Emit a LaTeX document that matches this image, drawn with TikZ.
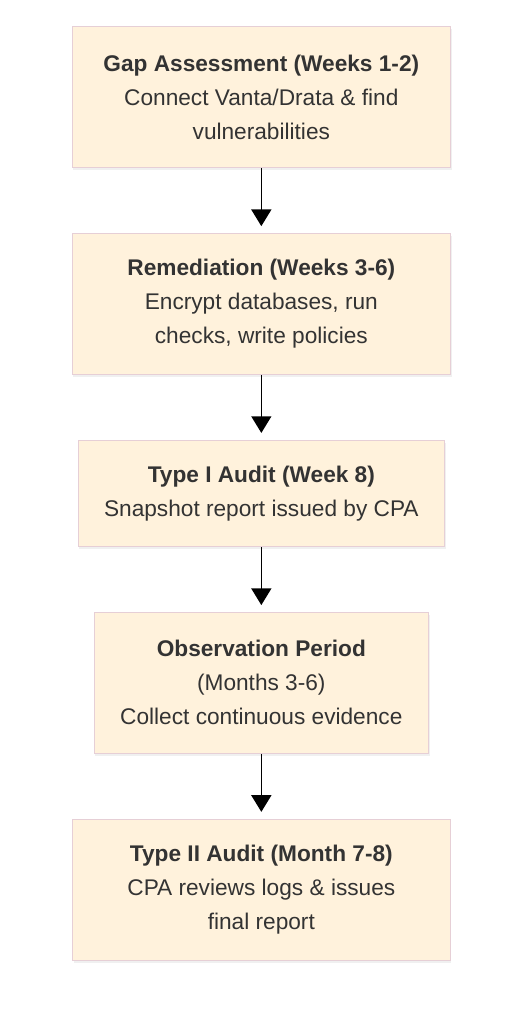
\documentclass[tikz,border=0pt]{standalone}
\usepackage{fontspec}
\setmainfont{Liberation Sans}
\usepackage{xcolor}
\usetikzlibrary{arrows.meta,positioning,shadows}
\definecolor{stagefill}{HTML}{FFF2DC}
\definecolor{stageline}{HTML}{E6CFD6}
\definecolor{stagetext}{HTML}{333333}

\begin{document}
\begin{tikzpicture}[
    font=\fontsize{17}{25.5}\selectfont, >={Triangle[length=12.5pt,width=15pt]},
    stage/.style={draw=stageline, line width=0.6pt, fill=stagefill, text=stagetext,
        minimum height=106pt, minimum width=284pt, align=center,
        drop shadow={opacity=0.12, shadow xshift=0.8pt, shadow yshift=-2pt}},
    flow/.style={->, line width=1.1pt, shorten >=5pt},
]
\useasboundingbox (-196pt,19.5pt) rectangle (193.25pt,-748.5pt);

\node[stage, anchor=north] (gap) at (0,0)
    {\textbf{Gap Assessment (Weeks 1-2)}\\Connect Vanta/Drata \& find\\vulnerabilities};
\node[stage] (rem) [below=48.5pt of gap]
    {\textbf{Remediation (Weeks 3-6)}\\Encrypt databases, run\\checks, write policies};
\node[stage, minimum width=275pt, minimum height=80pt] (type1) [below=48.5pt of rem]
    {\textbf{Type I Audit (Week 8)}\\Snapshot report issued by CPA};
\node[stage, minimum width=251pt] (obs) [below=48.5pt of type1]
    {\textbf{Observation Period}\\(Months 3-6)\\Collect continuous evidence};
\node[stage, minimum width=283pt] (type2) [below=48.5pt of obs]
    {\textbf{Type II Audit (Month 7-8)}\\CPA reviews logs \& issues\\final report};

% timeline
\draw[flow] (gap) -- (rem);
\draw[flow] (rem) -- (type1);
\draw[flow] (type1) -- (obs);
\draw[flow] (obs) -- (type2);
\end{tikzpicture}
\end{document}
